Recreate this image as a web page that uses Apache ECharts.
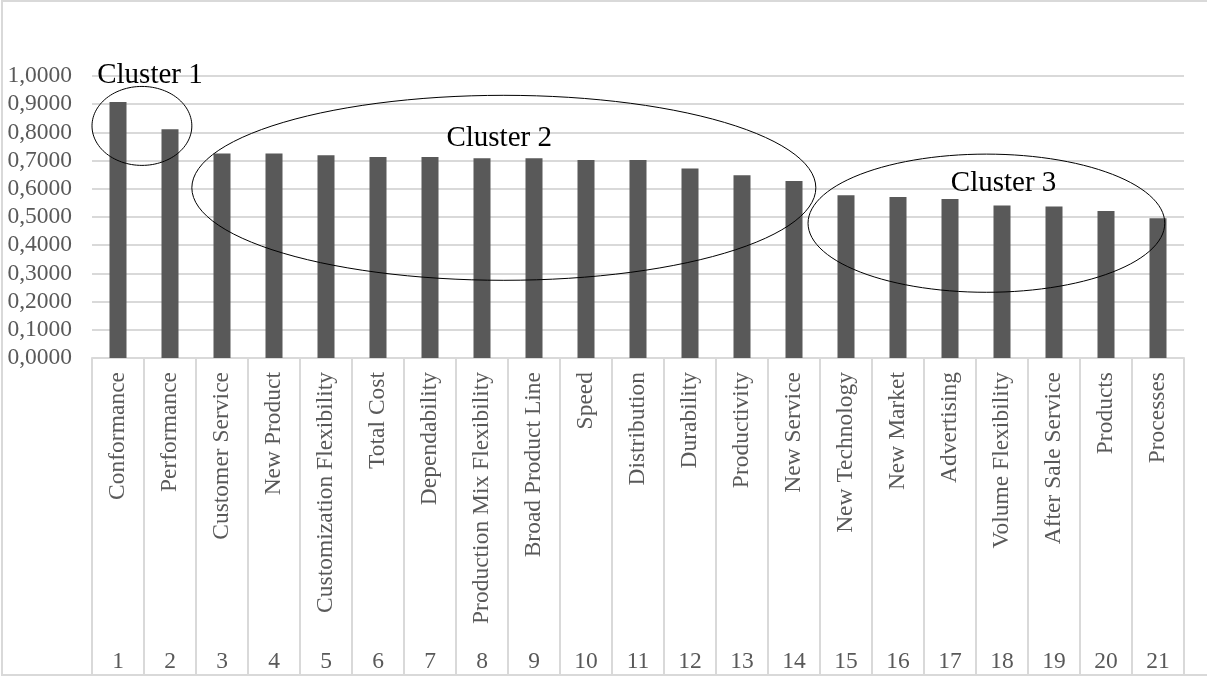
<!DOCTYPE html>
<html>
<head>
<meta charset="utf-8">
<script src="https://cdn.jsdelivr.net/npm/echarts@6/dist/echarts.min.js"></script>
<style>
html, body { margin: 0; padding: 0; background: #fff; }
#chart { width: 1207px; height: 677px; }
</style>
</head>
<body>
<div id="chart"></div>
<script>
var names = ['Conformance', 'Performance', 'Customer Service', 'New Product', 'Customization Flexibility',
    'Total Cost', 'Dependability', 'Production Mix Flexibility', 'Broad Product Line', 'Speed',
    'Distribution', 'Durability', 'Productivity', 'New Service', 'New Technology', 'New Market',
    'Advertising', 'Volume Flexibility', 'After Sale Service', 'Products', 'Processes'];
var ranks = ['1', '2', '3', '4', '5', '6', '7', '8', '9', '10', '11', '12', '13', '14', '15',
    '16', '17', '18', '19', '20', '21'];
var scores = [0.908, 0.811, 0.725, 0.725, 0.719, 0.713, 0.713, 0.708, 0.708, 0.702, 0.702,
    0.672, 0.648, 0.628, 0.577, 0.571, 0.564, 0.541, 0.537, 0.521, 0.496];

// cluster ellipses in data units: centre (category index, value) and radii
var clusterNames = ['Cluster 1', 'Cluster 2', 'Cluster 3'];
var clusterCx = [0.46, 7.42, 16.70];
var clusterCy = [0.823, 0.6035, 0.478];
var clusterRx = [0.96, 6.0, 3.43];
var clusterRy = [0.140, 0.328, 0.245];
// label anchor (category index, value) for each cluster name
var labelX = [0.615, 7.33, 17.03];
var labelY = [1.003, 0.778, 0.619];

var serif = 'Liberation Serif';
var grey = '#595959';
var lineGrey = '#d9d9d9';

var myChart = echarts.init(document.getElementById('chart'));
var option = {
    animation: false,
    grid: { left: 92, right: 23, top: 76, bottom: 319, containLabel: false },
    xAxis: [
        {
            type: 'category',
            data: names,
            axisLine: { show: true, lineStyle: { color: lineGrey, width: 2 } },
            axisTick: { show: true, interval: 0, length: 317, lineStyle: { color: lineGrey, width: 2 } },
            axisLabel: {
                interval: 0, rotate: 90, margin: 14,
                fontFamily: serif, fontSize: 23.5, color: grey
            }
        },
        {
            type: 'category',
            data: ranks,
            position: 'bottom',
            offset: 284,
            axisLine: { show: false },
            axisTick: { show: false },
            axisLabel: { interval: 0, margin: 8, fontFamily: serif, fontSize: 23.5, color: grey }
        }
    ],
    yAxis: {
        type: 'value',
        min: 0, max: 1, interval: 0.1,
        axisLine: { show: false },
        axisTick: { show: false },
        splitLine: { lineStyle: { color: lineGrey, width: 2 } },
        axisLabel: {
            margin: 20, fontFamily: serif, fontSize: 23.5, color: grey,
            formatter: function (v) { return v.toFixed(4).replace('.', ','); }
        }
    },
    series: [{
        type: 'bar',
        data: scores,
        barWidth: 17,
        itemStyle: { color: grey }
    }]
};
myChart.setOption(option);

// category axis rounds to whole indexes, so interpolate between two centres
function toPx(idx, val) {
    var a = myChart.convertToPixel({ gridIndex: 0 }, [0, val]);
    var b = myChart.convertToPixel({ gridIndex: 0 }, [1, val]);
    return [a[0] + (b[0] - a[0]) * idx, a[1]];
}

// annotations: ellipses and cluster names
var shapes = [{
    type: 'rect', silent: true,
    shape: { x: 2, y: 1, width: 1220, height: 674 },
    style: { fill: 'none', stroke: lineGrey, lineWidth: 2 }
}];
for (var c = 0; c < clusterNames.length; c++) {
    var ctr = toPx(clusterCx[c], clusterCy[c]);
    var edge = toPx(clusterCx[c] + clusterRx[c], clusterCy[c] + clusterRy[c]);
    var rx = edge[0] - ctr[0];
    var ry = ctr[1] - edge[1];
    var pts = [];
    for (var k = 0; k < 120; k++) {
        var t = k / 120 * Math.PI * 2;
        pts.push([ctr[0] + rx * Math.cos(t), ctr[1] + ry * Math.sin(t)]);
    }
    shapes.push({
        type: 'polygon', silent: true, z: 10,
        shape: { points: pts },
        style: { fill: 'none', stroke: '#000', lineWidth: 1 }
    });
    var lp = toPx(labelX[c], labelY[c]);
    shapes.push({
        type: 'text', silent: true, z: 11,
        x: lp[0], y: lp[1],
        style: {
            text: clusterNames[c], fill: '#000',
            font: '29px "' + serif + '"',
            textAlign: 'center', textVerticalAlign: 'middle'
        }
    });
}
myChart.setOption({ graphic: shapes });
</script>
</body>
</html>
